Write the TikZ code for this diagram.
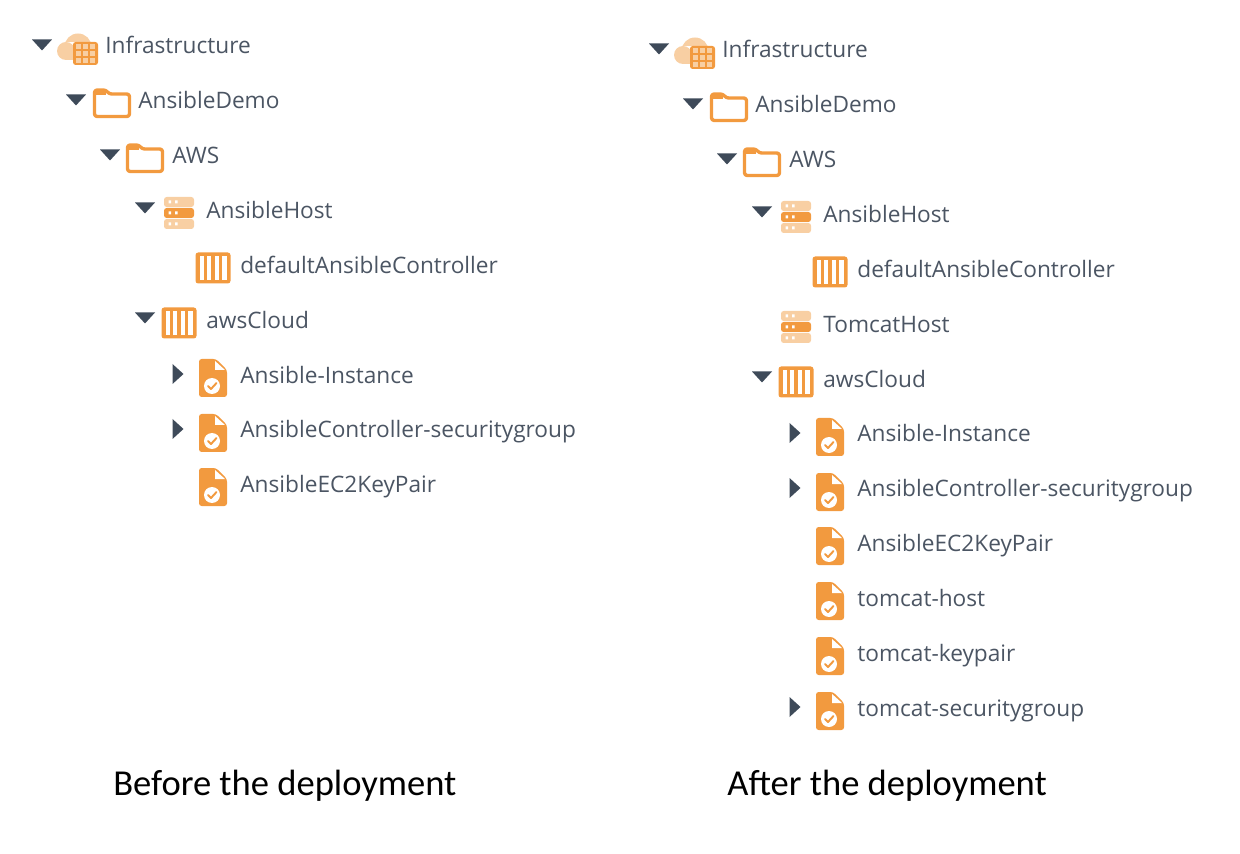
\documentclass[tikz,border=0pt]{standalone}
\usepackage{fontspec}
\setmainfont{Open Sans}
\newfontfamily\captionfont{Carlito}
\definecolor{iconorange}{HTML}{F29A3F}
\definecolor{iconlight}{HTML}{F8CFA3}
\definecolor{labelgrey}{HTML}{4B5563}
\definecolor{arrowgrey}{HTML}{3E4A59}
\tikzset{
  treelabel/.style={anchor=base west,inner sep=0pt,text=labelgrey,font=\fontsize{12.9pt}{15pt}\selectfont},
  capt/.style={anchor=base west,inner sep=0pt,text=black,font=\captionfont\fontsize{20.8pt}{24pt}\selectfont},
  opendown/.pic={\fill[arrowgrey] (-10,-5.5)-- (10,-5.5)-- (0,5.5)-- cycle;},
  openright/.pic={\fill[arrowgrey] (-5.5,-10)-- (5.5,0)-- (-5.5,10)-- cycle;},
  cloudicon/.pic={
    \fill[iconlight] (-11,1) circle (9) (1,-3) circle (13.5) (-11,-8) rectangle (5,10);
    \fill[iconlight] (-11,10) rectangle (0,0);
    \fill[iconorange,rounded corners=1.5] (-4,-8) rectangle (21,15);
    \foreach \i in {0,1,2} \foreach \j in {0,1,2}
      \fill[iconlight] (-1.5+\i*7.2,-5.5+\j*7) rectangle +(5.2,5);
  },
  foldericon/.pic={
    \draw[iconorange,line width=3.4pt*0.567,rounded corners=1.5]
      (-17.5,-6)-- (-17.5,-13)-- (-6,-13)-- (-3,-9)-- (17.5,-9)-- (17.5,13.5)-- (-17.5,13.5)-- cycle;
    \fill[iconorange] (-17.5,-13.5) rectangle (-6,-7.5);
  },
  hosticon/.pic={
    \foreach \yy/\cc in {-17/iconlight,-6/iconorange,5/iconlight}{
      \fill[\cc,rounded corners=1.5] (-15,\yy) rectangle +(30,10);
      \fill[white] (-10.5,\yy+3.5) rectangle +(2.5,3) (-4,\yy+3.5) rectangle +(2.5,3);
    }
  },
  gridicon/.pic={
    \fill[iconorange,rounded corners=1.5] (-17.5,-15.5) rectangle (17.5,15.5);
    \fill[white] (-13.5,-12) rectangle (13.5,12);
    \foreach \xx in {-9.375,-1.75,5.875} \fill[iconorange] (\xx,-12) rectangle +(3.5,24);
  },
  fileicon/.pic={
    \fill[iconorange,rounded corners=1.5] (-14,-19)-- (3,-19)-- (14,-8)-- (14,19)-- (-14,19)-- cycle;
    \fill[white] (2,-17)-- (2,-8)-- (12,-8)-- cycle;
    \fill[white] (-1,8) circle (8);
    \draw[iconorange,line width=1.1pt,line cap=round,line join=round] (-5,8)-- (-2,11)-- (3.5,5);
  }
}
\begin{document}
\begin{tikzpicture}[x=0.02cm,y=-0.02cm,line cap=round,line join=round]
\useasboundingbox (0,0) rectangle (1240,854);
% before
\pic at (42,45) {opendown};
\pic at (77,50) {cloudicon};
\node[treelabel] (infraA) at (105,54) {Infrastructure};
\pic at (76,100) {opendown};
\pic at (112,103) {foldericon};
\node[treelabel] (demoA) at (138,109) {AnsibleDemo};
\pic at (110,155) {opendown};
\pic at (145,158) {foldericon};
\node[treelabel] (awsA) at (172,164) {AWS};
\pic at (145,208) {opendown};
\pic at (179,214) {hosticon};
\node[treelabel] (hostA) at (206,219) {AnsibleHost};
\pic at (213,268) {gridicon};
\node[treelabel] (ctrlA) at (240,274) {defaultAnsibleController};
\pic at (145,318) {opendown};
\pic at (179,323) {gridicon};
\node[treelabel] (cloudA) at (206,329) {awsCloud};
\pic at (178,374) {openright};
\pic at (213,378) {fileicon};
\node[treelabel] (instA) at (240,384) {Ansible-Instance};
\pic at (178,429) {openright};
\pic at (213,433) {fileicon};
\node[treelabel] (secA) at (240,438) {AnsibleController-securitygroup};
\pic at (213,487) {fileicon};
\node[treelabel] (keyA) at (240,492) {AnsibleEC2KeyPair};
\node[capt] (captA) at (113,795) {Before the deployment};
% after
\pic at (659,49) {opendown};
\pic at (694,54) {cloudicon};
\node[treelabel] (infraB) at (722,58) {Infrastructure};
\pic at (693,104) {opendown};
\pic at (729,107) {foldericon};
\node[treelabel] (demoB) at (755,113) {AnsibleDemo};
\pic at (727,159) {opendown};
\pic at (762,162) {foldericon};
\node[treelabel] (awsB) at (789,168) {AWS};
\pic at (762,212) {opendown};
\pic at (796,218) {hosticon};
\node[treelabel] (hostB) at (823,223) {AnsibleHost};
\pic at (830,272) {gridicon};
\node[treelabel] (ctrlB) at (857,278) {defaultAnsibleController};
\pic at (796,328) {hosticon};
\node[treelabel] (tomB) at (823,333) {TomcatHost};
\pic at (762,377) {opendown};
\pic at (796,382) {gridicon};
\node[treelabel] (cloudB) at (823,388) {awsCloud};
\pic at (795,433) {openright};
\pic at (830,437) {fileicon};
\node[treelabel] (instB) at (857,441) {Ansible-Instance};
\pic at (795,488) {openright};
\pic at (830,492) {fileicon};
\node[treelabel] (secB) at (857,497) {AnsibleController-securitygroup};
\pic at (830,546) {fileicon};
\node[treelabel] (keyB) at (857,551) {AnsibleEC2KeyPair};
\pic at (830,601) {fileicon};
\node[treelabel] (tchostB) at (857,606) {tomcat-host};
\pic at (830,656) {fileicon};
\node[treelabel] (tckeyB) at (857,661) {tomcat-keypair};
\pic at (795,707) {openright};
\pic at (830,711) {fileicon};
\node[treelabel] (tcsecB) at (857,716) {tomcat-securitygroup};
\node[capt] (captB) at (727,795) {After the deployment};
\end{tikzpicture}
\end{document}
